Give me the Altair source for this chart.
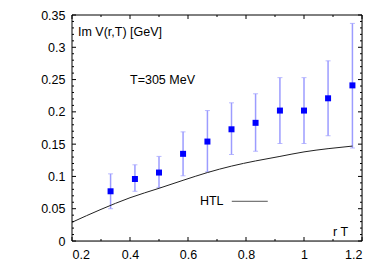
import altair as alt
import pandas as pd

# ---- data ----
r_T = [0.333, 0.417, 0.5, 0.583, 0.667, 0.75, 0.833, 0.917, 1.0, 1.083, 1.167]
im_v = [0.077, 0.096, 0.106, 0.135, 0.154, 0.173, 0.183, 0.202, 0.202, 0.221, 0.241]
err_lo = [0.050, 0.077, 0.083, 0.101, 0.107, 0.134, 0.139, 0.151, 0.151, 0.163, 0.144]
err_hi = [0.104, 0.118, 0.131, 0.169, 0.202, 0.214, 0.228, 0.253, 0.253, 0.279, 0.337]

htl_x = [0.2, 0.3, 0.4, 0.5, 0.583, 0.667, 0.75, 0.833, 0.917, 1.0, 1.083, 1.167]
htl_y = [0.029, 0.049, 0.067, 0.0816, 0.094, 0.106, 0.116, 0.124, 0.131, 0.138, 0.143, 0.147]

x_major = [0.2, 0.4, 0.6, 0.8, 1.0, 1.2]
x_minor = [0.3, 0.5, 0.7, 0.9, 1.1]
y_major = [0.0, 0.05, 0.1, 0.15, 0.2, 0.25, 0.3, 0.35]
y_minor = [round(i * 0.01, 2) for i in range(36) if i % 5 != 0]

W, H = 290, 226
FONT = "Liberation Sans"
FS = 12.5

xs = alt.Scale(domain=[0.2, 1.2], nice=False, zero=False)
ys = alt.Scale(domain=[0, 0.35], nice=False, zero=False)

AX = dict(title="", grid=False, ticks=False, domain=False, labelOverlap=False,
          labelFont=FONT, labelFontSize=FS, labelColor="black", format="~g")
AXX = alt.Axis(values=x_major, labelPadding=7, **AX)
AXY = alt.Axis(values=y_major, labelPadding=7, **AX)

pts = pd.DataFrame({"x": r_T, "y": im_v, "lo": err_lo, "hi": err_hi})
htl = pd.DataFrame({"x": htl_x, "y": htl_y})

ERR = "#9c9cff"

def X(f):
    return alt.X(f, scale=xs, axis=AXX, title="")

def Y(f):
    return alt.Y(f, scale=ys, axis=AXY, title="")

frame = alt.Chart(pd.DataFrame({"a": [0]})).mark_rect(
    fill="white", stroke="black", strokeWidth=1
).encode(x=alt.value(0), x2=alt.value(W), y=alt.value(0), y2=alt.value(H))

bars = alt.Chart(pts).mark_rule(color=ERR, strokeWidth=1.5).encode(
    x=X("x:Q"), y=Y("lo:Q"), y2="hi:Q",
)
cap_lo = alt.Chart(pts).mark_tick(color=ERR, size=5, thickness=1, orient="horizontal").encode(
    x=X("x:Q"), y=Y("lo:Q")
)
cap_hi = alt.Chart(pts).mark_tick(color=ERR, size=5, thickness=1, orient="horizontal").encode(
    x=X("x:Q"), y=Y("hi:Q")
)
squares = alt.Chart(pts).mark_square(color="#0000ff", opacity=1, size=36).encode(
    x=X("x:Q"), y=Y("y:Q")
)
line = alt.Chart(htl).mark_line(color="#222222", strokeWidth=1, interpolate="monotone").encode(
    x=X("x:Q"), y=Y("y:Q")
)

# legend line
leg = pd.DataFrame({"x": [0.751], "x2": [0.875], "y": [0.0615]})
leg_line = alt.Chart(leg).mark_rule(color="#555555", strokeWidth=1).encode(
    x=X("x:Q"), x2="x2:Q", y=Y("y:Q")
)

labels = pd.DataFrame({
    "x": [0.2207, 0.4, 0.641, 1.1],
    "y": [0.324, 0.25, 0.0615, 0.0135],
    "t": ["Im V(r,T) [GeV]", "T=305 MeV", "HTL", "r T"],
})
texts = alt.Chart(labels).mark_text(align="left", baseline="middle", font=FONT, fontSize=FS, color="black").encode(
    x=X("x:Q"), y=Y("y:Q"), text="t:N"
)

# inward ticks
def xticks(vals, length):
    d = pd.DataFrame({"v": vals})
    bot = alt.Chart(d).mark_rule(color="black").encode(
        x=X("v:Q"), y=alt.value(H), y2=alt.value(H - length))
    top = alt.Chart(d).mark_rule(color="black").encode(
        x=X("v:Q"), y=alt.value(0), y2=alt.value(length))
    return bot + top

def yticks(vals, length):
    d = pd.DataFrame({"v": vals})
    left = alt.Chart(d).mark_rule(color="black").encode(
        y=Y("v:Q"), x=alt.value(0), x2=alt.value(length))
    right = alt.Chart(d).mark_rule(color="black").encode(
        y=Y("v:Q"), x=alt.value(W), x2=alt.value(W - length))
    return left + right

chart = alt.layer(
    frame, bars, cap_lo, cap_hi, line, squares, leg_line, texts,
    xticks(x_major, 4), xticks(x_minor, 2), yticks(y_major, 4), yticks(y_minor, 2),
).properties(
    width=W, height=H,
    autosize=alt.AutoSizeParams(type="none"),
    padding={"left": 64, "top": 7, "right": 12, "bottom": 26},
).configure_view(
    stroke=None
).configure(background="white")

chart.save("out.html", embed_options={"renderer": "svg", "actions": False})
